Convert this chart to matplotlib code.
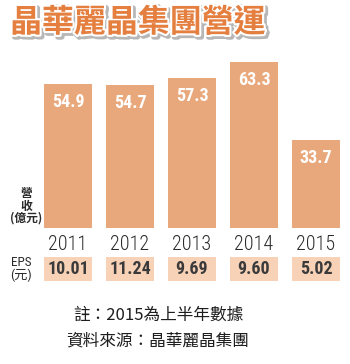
"""晶華麗晶集團營運: revenue bars with an EPS row underneath."""

import matplotlib

matplotlib.use("Agg")
from matplotlib import patheffects as pe
from matplotlib import pyplot as plt

years = ["2011", "2012", "2013", "2014", "2015"]
revenue = [54.9, 54.7, 57.3, 63.3, 33.7]  # 億元
eps = [10.01, 11.24, 9.69, 9.60, 5.02]  # 元

BAR_COLOR = "#e9a87b"
EPS_BOX = "#f7d2b7"
TITLE_COLOR = "#e47f3f"
TEXT_DARK = "#2b2b2b"
CJK = ["Noto Sans CJK TC", "DejaVu Sans"]
NARROW = ["Roboto Condensed", "Noto Sans CJK TC", "DejaVu Sans"]

W, H = 350, 364
fig = plt.figure(figsize=(W / 100, H / 100), dpi=100)
fig.patch.set_facecolor("white")


def px_axes(left, top, width, height):
    """Axes placed with pixel coords measured from the top-left corner."""
    return fig.add_axes([left / W, (H - top - height) / H, width / W, height / H])


# ---- revenue bars ----
ax = px_axes(37, 50, 310, 178)
x = range(len(years))
ax.bar(x, revenue, width=0.76, color=BAR_COLOR, zorder=3)
for xi, v in zip(x, revenue):
    ax.annotate(f"{v:.1f}", (xi, v), xytext=(0, -6.5), textcoords="offset points",
                ha="center", va="top", color="white", fontsize=13,
                fontweight="bold", family=NARROW)
ax.set_xlim(-0.5, len(years) - 0.5)
ax.set_ylim(0, 68)
ax.set_xticks(list(x), years, family=NARROW, fontsize=14.5, fontweight="light",
              color=TEXT_DARK)
ax.tick_params(axis="x", length=0, pad=5)
ax.set_yticks([])
for s in ax.spines.values():
    s.set_visible(False)
ax.patch.set_alpha(0)

# ---- EPS row ----
ax2 = px_axes(37, 257, 310, 24)
ax2.bar(x, [1] * len(eps), width=0.76, color=EPS_BOX)
for xi, v in zip(x, eps):
    ax2.text(xi, 0.5, f"{v:.2f}", ha="center", va="center", color="#3a3a3a",
             fontsize=13, fontweight="bold", family=NARROW)
ax2.set_xlim(-0.5, len(years) - 0.5)
ax2.set_ylim(0, 1)
ax2.axis("off")

# ---- side labels ----
fig.text(26 / W, 1 - 206 / H, "營\n收\n(億元)", ha="center", va="center",
         family=CJK, fontsize=8.5, fontweight="bold", color=TEXT_DARK,
         linespacing=0.95)
fig.text(21 / W, 1 - 269 / H, "EPS\n(元)", ha="center", va="center",
         family=NARROW, fontsize=9.5, color=TEXT_DARK, linespacing=0.95)

# ---- title ----
fig.text(10 / W, 1 - 23 / H, "晶華麗晶集團營運", ha="left", va="center",
         family=CJK, fontsize=23, fontweight="heavy", color=TITLE_COLOR,
         path_effects=[pe.SimpleLineShadow(offset=(1.5, -1.5), shadow_color="#888888",
                                           alpha=0.6, linewidth=4),
                       pe.withStroke(linewidth=3, foreground="white")])

# ---- notes ----
fig.text(158 / W, 1 - 315 / H, "註：2015為上半年數據", ha="center", va="center",
         family=CJK, fontsize=12, color="#1e1e1e")
fig.text(158 / W, 1 - 341 / H, "資料來源：晶華麗晶集團", ha="center", va="center",
         family=CJK, fontsize=12, color="#1e1e1e")

fig.savefig("out.png", dpi=100, facecolor="white")
